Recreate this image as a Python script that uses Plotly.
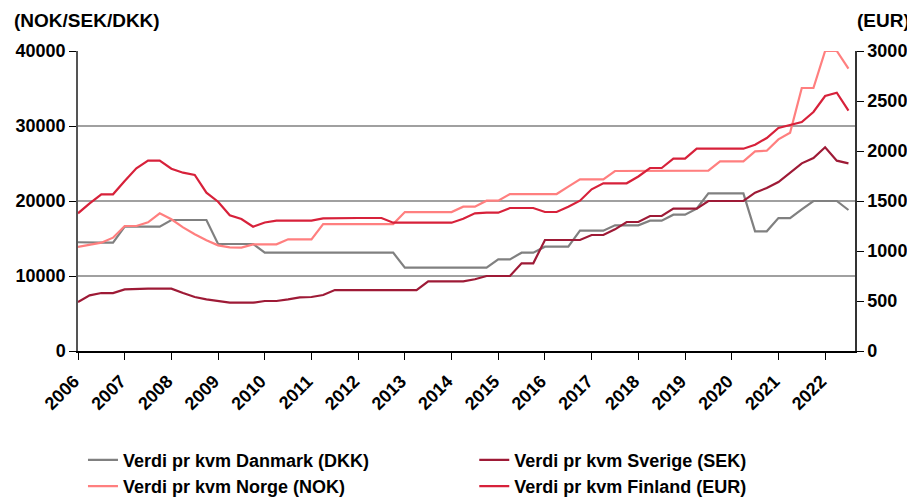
import plotly.graph_objects as go

# quarterly values, 2006Q1 .. 2022Q3
danmark = [14500, 14450, 14450, 14450, 16580, 16580, 16580, 16580,
           17470, 17470, 17470, 17470, 14270, 14270, 14270, 14270,
           13110, 13110, 13110, 13110, 13110, 13110, 13110, 13110,
           13110, 13110, 13110, 13110, 11110, 11110, 11110, 11110,
           11110, 11110, 11110, 11110, 12220, 12220, 13110, 13110,
           13910, 13910, 13910, 16040, 16040, 16040, 16760, 16760,
           16760, 17380, 17380, 18180, 18180, 18980, 21020, 21020,
           21020, 21020, 15960, 15960, 17730, 17730, 18890, 20000,
           20000, 20000, 18800]

norge = [13870, 14180, 14440, 15110, 16670, 16670, 17160, 18360,
         17560, 16490, 15560, 14760, 14090, 13820, 13780, 14220,
         14270, 14220, 14890, 14890, 14890, 16930, 16930, 16930,
         16930, 16930, 16930, 16930, 18530, 18530, 18530, 18530,
         18530, 19240, 19240, 20040, 20040, 20930, 20930, 20930,
         20930, 20930, 21910, 22890, 22890, 22890, 24000, 24000,
         24040, 24040, 24040, 24040, 24040, 24040, 24040, 25290,
         25290, 25290, 26620, 26710, 28220, 29110, 35070, 35070,
         40000, 40000, 37640]

sverige = [6530, 7420, 7730, 7730, 8220, 8310, 8310, 8310,
           8310, 7730, 7200, 6890, 6670, 6440, 6440, 6440,
           6670, 6670, 6890, 7160, 7200, 7470, 8130, 8130,
           8130, 8130, 8130, 8130, 8130, 8130, 9290, 9290,
           9290, 9290, 9560, 10000, 10000, 10000, 11690, 11690,
           14800, 14800, 14800, 14800, 15470, 15470, 16220, 17200,
           17200, 18000, 18000, 18980, 18980, 18980, 20000, 20000,
           20000, 20000, 21110, 21730, 22530, 23780, 25020, 25730,
           27160, 25380, 25020]

finland = [1377, 1477, 1567, 1567, 1700, 1827, 1903, 1903,
           1823, 1783, 1760, 1583, 1493, 1357, 1320, 1243,
           1285, 1303, 1303, 1303, 1303, 1327, 1330, 1330,
           1330, 1330, 1330, 1283, 1283, 1283, 1283, 1283,
           1283, 1323, 1377, 1383, 1383, 1430, 1430, 1430,
           1390, 1390, 1443, 1503, 1617, 1677, 1677, 1677,
           1745, 1830, 1830, 1923, 1923, 2023, 2023, 2023,
           2023, 2023, 2063, 2130, 2230, 2257, 2290, 2390,
           2550, 2583, 2403]

quarters = [2006 + i / 4 for i in range(len(finland))]
years = list(range(2006, 2023))

FONT = "Arial, Liberation Sans, sans-serif"

fig = go.Figure()
fig.add_trace(go.Scatter(x=quarters, y=danmark, mode="lines", name="Verdi pr kvm Danmark (DKK)",
                         line=dict(color="#808080", width=2.2), legend="legend"))
fig.add_trace(go.Scatter(x=quarters, y=norge, mode="lines", name="Verdi pr kvm Norge (NOK)",
                         line=dict(color="#FF7F7F", width=2.2), legend="legend"))
fig.add_trace(go.Scatter(x=quarters, y=sverige, mode="lines", name="Verdi pr kvm Sverige (SEK)",
                         line=dict(color="#9E1A36", width=2.2), legend="legend2"))
fig.add_trace(go.Scatter(x=quarters, y=finland, mode="lines", name="Verdi pr kvm Finland (EUR)",
                         line=dict(color="#D7213A", width=2.2), yaxis="y2", legend="legend2"))

legend_style = dict(
    orientation="v",
    y=-0.302,
    yanchor="top",
    xanchor="left",
    bgcolor="rgba(0,0,0,0)",
    font=dict(family=FONT, size=18, weight="bold"),
    tracegroupgap=0,
)

# the page body adds an 8px margin, so the figure is 8px smaller than the window
fig.update_layout(
    width=907,
    height=493,
    margin=dict(l=70, r=60, t=43, b=150, autoexpand=False),
    plot_bgcolor="white",
    paper_bgcolor="white",
    font=dict(family=FONT, size=17, color="black", weight="bold"),
    showlegend=True,
    legend=dict(x=0.0064, **legend_style),
    legend2=dict(x=0.51, **legend_style),
    xaxis=dict(
        range=[2006, 2022.64],
        tickvals=years,
        ticktext=[str(y) for y in years],
        tickangle=-45,
        ticks="outside",
        ticklen=7,
        tickcolor="black",
        ticklabelstandoff=4,
        ticklabelshift=-4,
        showline=True,
        linecolor="black",
        linewidth=1.5,
        showgrid=False,
        zeroline=False,
        automargin=False,
        tickfont=dict(size=18, weight="bold"),
    ),
    yaxis=dict(
        range=[0, 40000],
        tickvals=[0, 10000, 20000, 30000, 40000],
        tickformat="d",
        ticks="outside",
        ticklen=7,
        tickcolor="black",
        showline=True,
        linecolor="#555555",
        linewidth=1.5,
        showgrid=True,
        gridcolor="#a0a0a0",
        gridwidth=1.8,
        zeroline=False,
        automargin=False,
        tickfont=dict(size=18, weight="bold"),
    ),
    yaxis2=dict(
        range=[0, 3000],
        tickvals=[0, 500, 1000, 1500, 2000, 2500, 3000],
        tickformat="d",
        overlaying="y",
        side="right",
        ticks="outside",
        ticklen=7,
        tickcolor="black",
        showline=True,
        linecolor="#333333",
        linewidth=1.5,
        showgrid=False,
        zeroline=False,
        automargin=False,
        tickfont=dict(size=18, weight="bold"),
    ),
)

fig.add_annotation(text="(NOK/SEK/DKK)", xref="paper", yref="paper", x=-0.085, y=1.06,
                   xanchor="left", yanchor="bottom", showarrow=False,
                   font=dict(size=19, weight="bold"))
fig.add_annotation(text="(EUR)", xref="paper", yref="paper", x=1.073, y=1.06,
                   xanchor="right", yanchor="bottom", showarrow=False,
                   font=dict(size=19, weight="bold"))

fig.write_html("out.html")
